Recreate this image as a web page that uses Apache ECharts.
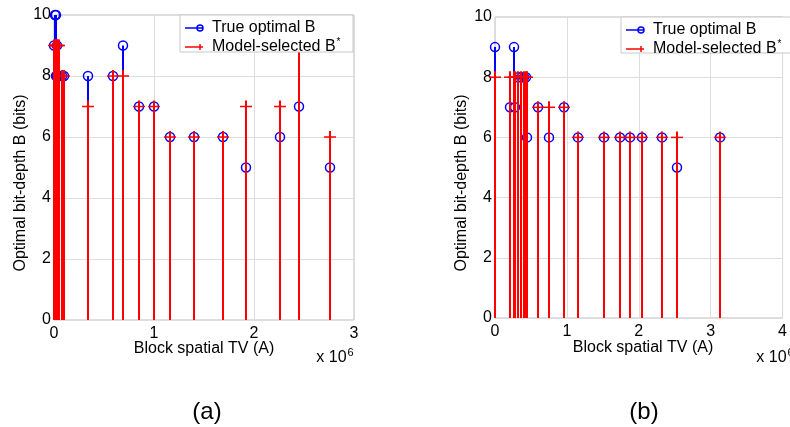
<!DOCTYPE html>
<html>
<head>
<meta charset="utf-8">
<script src="https://cdn.jsdelivr.net/npm/echarts@6/dist/echarts.min.js"></script>
<style>
  html, body { margin: 0; padding: 0; background: #fff; }
  #chart { width: 790px; height: 427px; }
</style>
</head>
<body>
<div id="chart"></div>
<script>
// block spatial TV (x 10^6) and bit-depths, panel (a)
const leftX     = [0.0, 0.01, 0.015, 0.02, 0.025, 0.03, 0.04, 0.05, 0.077, 0.1, 0.337, 0.587, 0.687, 0.847, 1.003, 1.157, 1.403, 1.687, 1.92, 2.26, 2.453, 2.76];
const leftTrue  = [9, 10, 10, 8, 9, 8, 8, 8, 8, 8, 8, 8, 9, 7, 7, 6, 6, 6, 5, 6, 7, 5];
const leftModel = [9, 9, 9, 9, 9, 9, 9, 9, 8, 8, 7, 8, 8, 7, 7, 6, 6, 6, 7, 7, 9, 6];

// panel (b)
const rightX     = [0.0, 0.215, 0.266, 0.285, 0.315, 0.36, 0.405, 0.43, 0.445, 0.6, 0.757, 0.96, 1.157, 1.51, 1.739, 1.878, 2.04, 2.33, 2.536, 3.126];
const rightTrue  = [9, 7, 9, 7, 8, 8, 8, 8, 6, 7, 6, 7, 6, 6, 6, 6, 6, 6, 5, 6];
const rightModel = [8, 8, 8, 8, 8, 8, 8, 8, 8, 7, 7, 7, 6, 6, 6, 6, 6, 6, 6, 6];

const BLUE = '#0000ff', RED = '#ff0000';
const FONT = 'Liberation Sans, Arial, sans-serif';

function pairs(xs, ys) {
  return xs.map((x, i) => [x, ys[i]]);
}

// stem line from 0 to value, plus marker at the top
function stem(color, marker) {
  return function (params, api) {
    const p0 = api.coord([api.value(0), 0]);
    const p1 = api.coord([api.value(0), api.value(1)]);
    const sx = Math.round(p0[0]);   // snap so red stems fully cover blue ones
    const kids = [{
      type: 'line',
      shape: { x1: sx, y1: p0[1], x2: sx, y2: p1[1] },
      style: { stroke: color, lineWidth: 2 }
    }];
    if (marker === 'circle') {
      kids.push({ type: 'circle', shape: { cx: sx, cy: p1[1], r: 4.5 },
        style: { fill: 'none', stroke: color, lineWidth: 1.5 } });
    } else {
      kids.push({ type: 'line', shape: { x1: sx - 6, y1: p1[1], x2: sx + 6, y2: p1[1] },
        style: { stroke: color, lineWidth: 1.5 } });
      kids.push({ type: 'line', shape: { x1: sx, y1: p1[1] - 6, x2: sx, y2: p1[1] + 6 },
        style: { stroke: color, lineWidth: 2 } });
    }
    return { type: 'group', children: kids };
  };
}

function xAxis(idx, max) {
  return {
    type: 'value', gridIndex: idx, min: 0, max: max, interval: 1,
    axisLine: { show: false },
    axisTick: { show: false },
    axisLabel: { color: '#000', fontSize: 16, fontFamily: FONT, margin: 6 },
    splitLine: { show: true, lineStyle: { color: '#dddddd', width: 1 } }
  };
}
function yAxis(idx) {
  return {
    type: 'value', gridIndex: idx, min: 0, max: 10, interval: 2,
    axisLine: { show: false },
    axisTick: { show: false },
    axisLabel: { color: '#000', fontSize: 16, fontFamily: FONT, margin: 3 },
    splitLine: { show: true, lineStyle: { color: '#dddddd', width: 1 } }
  };
}

function legend(x, y, w, h) {
  const t = { fontSize: 16, fontFamily: FONT, fill: '#000' };
  return [
    { type: 'rect', z: 100, shape: { x: x, y: y, width: w, height: h },
      style: { fill: '#fff', stroke: '#c8c8c8', lineWidth: 1 } },
    { type: 'line', z: 101, shape: { x1: x + 5, y1: y + 13, x2: x + 23, y2: y + 13 }, style: { stroke: BLUE, lineWidth: 1.5 } },
    { type: 'circle', z: 101, shape: { cx: x + 20, cy: y + 13, r: 3 }, style: { fill: 'none', stroke: BLUE, lineWidth: 1.5 } },
    { type: 'text', z: 101, x: x + 32, y: y + 13, style: Object.assign({ text: 'True optimal B', verticalAlign: 'middle' }, t) },
    { type: 'line', z: 101, shape: { x1: x + 5, y1: y + 32, x2: x + 23, y2: y + 32 }, style: { stroke: RED, lineWidth: 1.5 } },
    { type: 'line', z: 101, shape: { x1: x + 20, y1: y + 29, x2: x + 20, y2: y + 35 }, style: { stroke: RED, lineWidth: 1.5 } },
    { type: 'text', z: 101, x: x + 32, y: y + 32, style: Object.assign({
        text: 'Model-selected B{sup|*}', verticalAlign: 'middle',
        rich: { sup: { fontSize: 10, fontFamily: FONT, padding: [0, 0, 10, 1] } } }, t) }
  ];
}

function label(text, x, y, size, rot) {
  return { type: 'text', x: x, y: y, rotation: rot || 0,
    style: { text: text, fontSize: size, fontFamily: FONT, fill: '#000', align: 'center', verticalAlign: 'middle',
      rich: { sup: { fontSize: 11, fontFamily: FONT, padding: [0, 0, 11, 1] } } } };
}

const chart = echarts.init(document.getElementById('chart'));

chart.setOption({
  animation: false,
  backgroundColor: '#fff',
  grid: [
    { left: 54, top: 15, width: 300, height: 305, show: true, borderColor: '#bdbdbd', borderWidth: 1, backgroundColor: 'transparent' },
    { left: 495, top: 17, width: 296, height: 301, show: true, borderColor: '#bdbdbd', borderWidth: 1, backgroundColor: 'transparent' }
  ],
  xAxis: [xAxis(0, 3), xAxis(1, 4)],
  yAxis: [yAxis(0), yAxis(1)],
  series: [
    { type: 'custom', name: 'True optimal B', xAxisIndex: 0, yAxisIndex: 0, renderItem: stem(BLUE, 'circle'), data: pairs(leftX, leftTrue) },
    { type: 'custom', name: 'Model-selected B*', xAxisIndex: 0, yAxisIndex: 0, renderItem: stem(RED, 'plus'), data: pairs(leftX, leftModel) },
    { type: 'custom', name: 'True optimal B', xAxisIndex: 1, yAxisIndex: 1, renderItem: stem(BLUE, 'circle'), data: pairs(rightX, rightTrue) },
    { type: 'custom', name: 'Model-selected B*', xAxisIndex: 1, yAxisIndex: 1, renderItem: stem(RED, 'plus'), data: pairs(rightX, rightModel) }
  ],
  graphic: [].concat(
    legend(180, 15, 173, 37),
    legend(621, 17, 170, 36),
    [
      label('Optimal bit-depth B (bits)', 21, 183, 16, Math.PI / 2),
      label('Optimal bit-depth B (bits)', 462, 183, 16, Math.PI / 2),
      label('Block spatial TV (A)', 204, 349, 16),
      label('Block spatial TV (A)', 643, 348, 16),
      label('x 10{sup|6}', 335, 358, 16),
      label('x 10{sup|6}', 775, 358, 16),
      label('(a)', 207, 412, 24),
      label('(b)', 644, 412, 24)
    ]
  )
});
</script>
</body>
</html>
